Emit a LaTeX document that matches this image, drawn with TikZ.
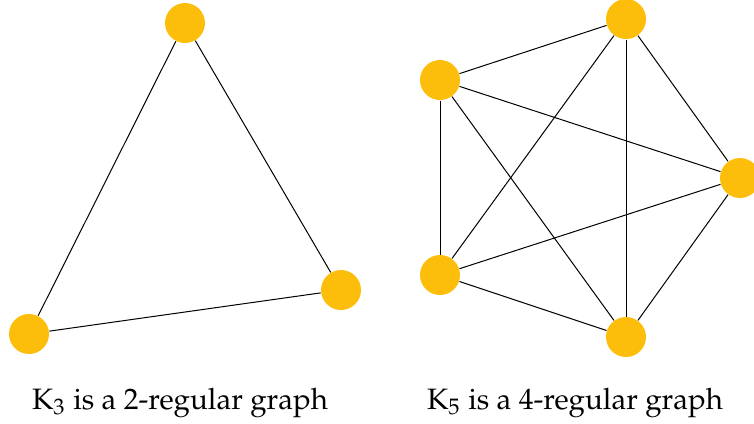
\documentclass[tikz,border=0pt]{standalone}
\usepackage[T1]{fontenc}
\usepackage{mathpazo}
\usetikzlibrary{positioning}
\definecolor{vertexgold}{RGB}{252,190,11}

\begin{document}
\begin{tikzpicture}[
    x=0.4pt, y=-0.4pt,
    vertex/.style={circle, fill=vertexgold, inner sep=0pt, minimum size=16pt},
    edge/.style={draw=black, line width=0.4pt},
    caption/.style={font=\fontsize{11.8}{14}\selectfont, anchor=base}
]
    \useasboundingbox (0,0) rectangle (754,423);

    % K3
    \node[vertex] (a1) at (185,23) {};
    \node[vertex] (a2) at (341,290) {};
    \node[vertex] (a3) at (29,334) {};
    \draw[edge] (a1) -- (a2) -- (a3) -- (a1);

    % K5
    \node[vertex] (b1) at (626,19) {};
    \node[vertex] (b2) at (440,80) {};
    \node[vertex] (b3) at (740,178) {};
    \node[vertex] (b4) at (440,275) {};
    \node[vertex] (b5) at (626,337) {};
    \foreach \u/\v in {b1/b2, b1/b3, b1/b4, b1/b5, b2/b3, b2/b4, b2/b5, b3/b4, b3/b5, b4/b5}
        \draw[edge] (\u) -- (\v);

    % Captions
    \node[caption] (cap1) at (180,409) {K$_3$ is a 2-regular graph};
    \node[caption] (cap2) at (575,409) {K$_5$ is a 4-regular graph};
\end{tikzpicture}
\end{document}
